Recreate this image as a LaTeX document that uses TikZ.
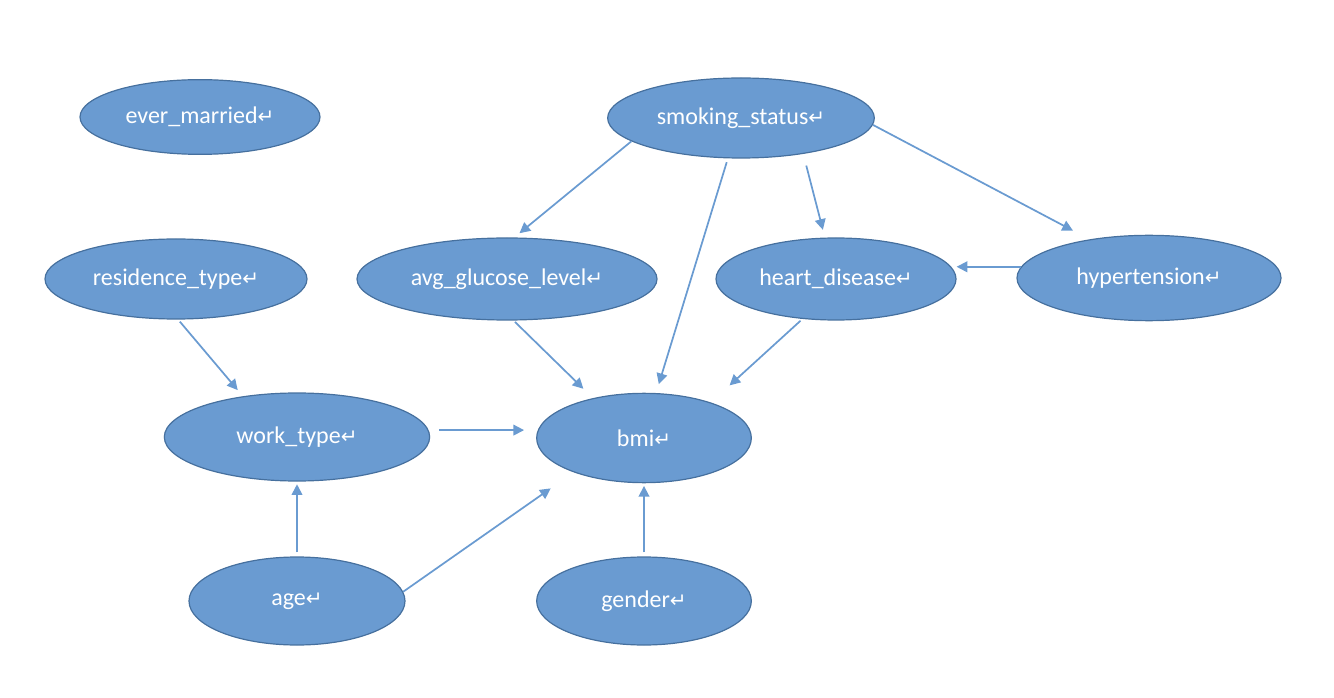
\documentclass[tikz,border=0pt]{standalone}
\usepackage{fontspec}
\setmainfont{Carlito}
\newfontfamily\symfont{DejaVu Sans}
\usetikzlibrary{arrows.meta,shapes.geometric}
\definecolor{nodeblue}{HTML}{6A9BD1}
\definecolor{nodeedge}{HTML}{46709E}
\definecolor{linkblue}{HTML}{6A9BD1}
\newcommand{\ret}{{\symfont\fontsize{15}{15}\selectfont ↵}}
\newcommand{\vlabel}[1]{\makebox[0pt]{#1\ret}}

\begin{document}
\begin{tikzpicture}[x=0.75pt, y=-0.75pt,
      every node/.style={font=\fontsize{18}{21}\selectfont, text=white},
      var/.style={ellipse, draw=nodeedge, fill=nodeblue, line width=0.9pt, inner sep=0pt},
      link/.style={draw=linkblue, line width=1.3pt, -{Triangle[length=8pt,width=8pt]}}
  ]
    \useasboundingbox (0,0) rectangle (1334,698);

    \node[var, minimum width=180pt, minimum height=56pt] (married) at (200,117) {\vlabel{ever\_married}};
    \node[var, minimum width=200pt, minimum height=60pt] (smoking) at (741,118) {\vlabel{smoking\_status}};
    \node[var, minimum width=196.5pt, minimum height=60pt] (residence) at (176,279) {\vlabel{residence\_type}};
    \node[var, minimum width=225pt, minimum height=61.5pt] (glucose) at (507,279) {\vlabel{avg\_glucose\_level}};
    \node[var, minimum width=180pt, minimum height=61.5pt] (heart) at (836,279) {\vlabel{heart\_disease}};
    \node[var, minimum width=198pt, minimum height=64pt] (hyper) at (1149,278) {\vlabel{hypertension}};
    \node[var, minimum width=199pt, minimum height=66pt] (work) at (297,437) {\vlabel{work\_type}};
    \node[var, minimum width=161pt, minimum height=67pt] (bmi) at (644,438) {\vlabel{bmi}};
    \node[var, minimum width=162pt, minimum height=66pt] (age) at (297,601) {\vlabel{age}};
    \node[var, minimum width=161pt, minimum height=66pt] (gender) at (644,601) {\vlabel{gender}};

    \draw[link, shorten >=5pt] (smoking.192) -- (glucose.80);
    \draw[link, shorten <=3pt, shorten >=7pt] (smoking.252) -- (bmi.75);
    \draw[link, shorten <=9pt, shorten >=6pt] (smoking.-30) -- (heart.105);
    \draw[link, shorten >=14pt] (smoking.-3) -- (hyper.147);
    \draw[link] (hyper.175) -- (hyper.175 -| heart.east);
    \draw[link, shorten <=2pt, shorten >=6pt] (residence.-87) -- (work.143);
    \draw[link, shorten <=1.5pt, shorten >=10pt] (glucose.-81) -- (bmi.142);
    \draw[link, shorten <=2pt, shorten >=19pt] (heart.230) -- (bmi.28);
    \draw[link, shorten <=8pt, shorten >=9pt] (work.3) -- (work.3 -| bmi.west);
    \draw[link, shorten <=3pt, shorten >=2pt] (age.north) -- (work.south);
    \draw[link, shorten >=21pt] (age.5) -- (bmi.206);
    \draw[link, shorten <=3pt, shorten >=2pt] (gender.north) -- (bmi.south);
  \end{tikzpicture}
\end{document}
